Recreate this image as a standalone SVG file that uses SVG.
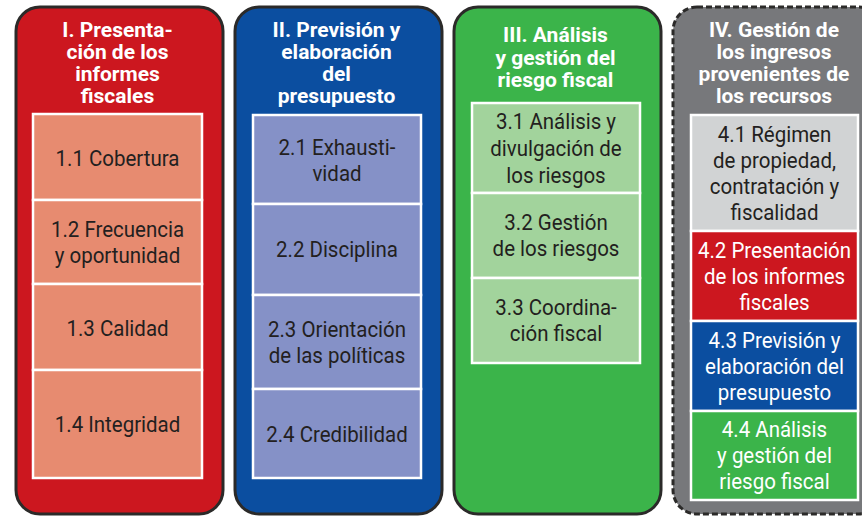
<svg xmlns="http://www.w3.org/2000/svg" width="862" height="516" viewBox="0 0 862 516">
<style>
.outer{stroke:#2b2a29;stroke-width:3}
.dash{stroke-dasharray:6 3}
.cell{stroke:#ffffff;stroke-width:2.5}
.h{font-family:Roboto,"Liberation Sans",sans-serif;font-weight:bold;font-size:21px;fill:#ffffff;text-anchor:middle}
.b{font-family:Roboto,"Liberation Sans",sans-serif;font-size:22.5px;fill:#231f20;text-anchor:middle}
.w{fill:#ffffff}
</style>
<rect width="862" height="516" fill="#ffffff"/>
<g id="col1">
<rect class="outer" x="16" y="7" width="207" height="507" rx="24" fill="#cc171f"/>
<text class="h" x="117.5" y="37">I. Presenta-</text>
<text class="h" x="117.5" y="59">ción de los</text>
<text class="h" x="117.5" y="81">informes</text>
<text class="h" x="117.5" y="103">fiscales</text>
<g id="n1-1"><rect class="cell" x="33" y="114" width="169" height="86" fill="#e78b70"/>
<text class="b" transform="translate(117.5 0) scale(0.91 1)" y="166">1.1 Cobertura</text></g>
<g id="n1-2"><rect class="cell" x="33" y="200" width="169" height="84" fill="#e78b70"/>
<text class="b" transform="translate(117.5 0) scale(0.91 1)" y="237">1.2 Frecuencia</text>
<text class="b" transform="translate(117.5 0) scale(0.91 1)" y="263">y oportunidad</text></g>
<g id="n1-3"><rect class="cell" x="33" y="284" width="169" height="86" fill="#e78b70"/>
<text class="b" transform="translate(117.5 0) scale(0.91 1)" y="336">1.3 Calidad</text></g>
<g id="n1-4"><rect class="cell" x="33" y="370" width="169" height="108" fill="#e78b70"/>
<text class="b" transform="translate(117.5 0) scale(0.91 1)" y="432">1.4 Integridad</text></g>
</g>
<g id="col2">
<rect class="outer" x="235" y="7" width="207" height="507" rx="24" fill="#0b4ea0"/>
<text class="h" x="336.5" y="37">II. Previsión y</text>
<text class="h" x="336.5" y="59">elaboración</text>
<text class="h" x="336.5" y="81">del</text>
<text class="h" x="336.5" y="103">presupuesto</text>
<g id="n2-1"><rect class="cell" x="253" y="115" width="168" height="89" fill="#8591c7"/>
<text class="b" transform="translate(337 0) scale(0.91 1)" y="155.5">2.1 Exhausti-</text>
<text class="b" transform="translate(337 0) scale(0.91 1)" y="181.5">vidad</text></g>
<g id="n2-2"><rect class="cell" x="253" y="204" width="168" height="91" fill="#8591c7"/>
<text class="b" transform="translate(337 0) scale(0.91 1)" y="257.5">2.2 Disciplina</text></g>
<g id="n2-3"><rect class="cell" x="253" y="295" width="168" height="94" fill="#8591c7"/>
<text class="b" transform="translate(337 0) scale(0.91 1)" y="337">2.3 Orientación</text>
<text class="b" transform="translate(337 0) scale(0.91 1)" y="363">de las políticas</text></g>
<g id="n2-4"><rect class="cell" x="253" y="389" width="168" height="89" fill="#8591c7"/>
<text class="b" transform="translate(337 0) scale(0.91 1)" y="442">2.4 Credibilidad</text></g>
</g>
<g id="col3">
<rect class="outer" x="454" y="7" width="207" height="507" rx="24" fill="#3bb44a"/>
<text class="h" x="555.5" y="42">III. Análisis</text>
<text class="h" x="555.5" y="64.5">y gestión del</text>
<text class="h" x="555.5" y="87">riesgo fiscal</text>
<g id="n3-1"><rect class="cell" x="472" y="103" width="168" height="90" fill="#a2d39c"/>
<text class="b" transform="translate(556 0) scale(0.91 1)" y="129">3.1 Análisis y</text>
<text class="b" transform="translate(556 0) scale(0.91 1)" y="156">divulgación de</text>
<text class="b" transform="translate(556 0) scale(0.91 1)" y="183">los riesgos</text></g>
<g id="n3-2"><rect class="cell" x="472" y="193" width="168" height="85" fill="#a2d39c"/>
<text class="b" transform="translate(556 0) scale(0.91 1)" y="230">3.2 Gestión</text>
<text class="b" transform="translate(556 0) scale(0.91 1)" y="256">de los riesgos</text></g>
<g id="n3-3"><rect class="cell" x="472" y="278" width="168" height="85" fill="#a2d39c"/>
<text class="b" transform="translate(556 0) scale(0.91 1)" y="315">3.3 Coordina-</text>
<text class="b" transform="translate(556 0) scale(0.91 1)" y="341">ción fiscal</text></g>
</g>
<g id="col4">
<rect class="outer dash" x="673" y="7" width="210" height="507" rx="24" fill="#77787b"/>
<text class="h" x="774" y="37">IV. Gestión de</text>
<text class="h" x="774" y="59">los ingresos</text>
<text class="h" x="774" y="81">provenientes de</text>
<text class="h" x="774" y="103">los recursos</text>
<g id="n4-1"><rect class="cell" x="691" y="115" width="167" height="116" fill="#d1d3d4"/>
<text class="b" transform="translate(774.5 0) scale(0.91 1)" y="142">4.1 Régimen</text>
<text class="b" transform="translate(774.5 0) scale(0.91 1)" y="168">de propiedad,</text>
<text class="b" transform="translate(774.5 0) scale(0.91 1)" y="194">contratación y</text>
<text class="b" transform="translate(774.5 0) scale(0.91 1)" y="220">fiscalidad</text></g>
<g id="n4-2"><rect class="cell" x="691" y="231" width="167" height="90" fill="#cc171f"/>
<text class="b w" transform="translate(774.5 0) scale(0.91 1)" y="258">4.2 Presentación</text>
<text class="b w" transform="translate(774.5 0) scale(0.91 1)" y="284">de los informes</text>
<text class="b w" transform="translate(774.5 0) scale(0.91 1)" y="310">fiscales</text></g>
<g id="n4-3"><rect class="cell" x="691" y="321" width="167" height="90" fill="#0b4ea0"/>
<text class="b w" transform="translate(774.5 0) scale(0.91 1)" y="348">4.3 Previsión y</text>
<text class="b w" transform="translate(774.5 0) scale(0.91 1)" y="374">elaboración del</text>
<text class="b w" transform="translate(774.5 0) scale(0.91 1)" y="400">presupuesto</text></g>
<g id="n4-4"><rect class="cell" x="691" y="411" width="167" height="89" fill="#3bb44a"/>
<text class="b w" transform="translate(774.5 0) scale(0.91 1)" y="437.5">4.4 Análisis</text>
<text class="b w" transform="translate(774.5 0) scale(0.91 1)" y="463.5">y gestión del</text>
<text class="b w" transform="translate(774.5 0) scale(0.91 1)" y="489.5">riesgo fiscal</text></g>
</g>
<g id="connectors"></g>
</svg>
